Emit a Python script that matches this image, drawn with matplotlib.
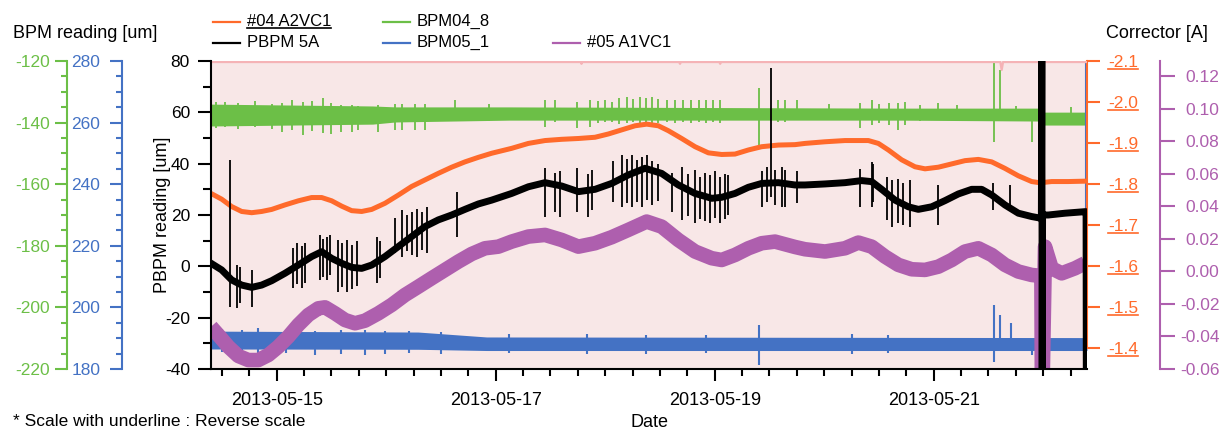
import numpy as np
import matplotlib
matplotlib.use('Agg')
import matplotlib.pyplot as plt
import matplotlib.dates as mdates
from matplotlib.ticker import MultipleLocator
from matplotlib.lines import Line2D
from matplotlib.transforms import IdentityTransform

plt.rcParams['font.family'] = ['Liberation Sans', 'DejaVu Sans']
plt.rcParams['axes.unicode_minus'] = False

# ---------------- data (time = hours since 2013-05-14 00:00) ----------------
T0 = np.datetime64('2013-05-14T00:00:00')
X_START_H, X_END_H = 9.6, 201.6

# PBPM 5A [um] (main axis): (hour, value)
pbpm_pts = [(9.6, 1.2), (11.94, -1.4), (14.13, -5.3), (16.32, -7.3), (18.51, -8.2),
            (20.70, -7.3), (22.90, -5.6), (25.82, -2.7), (28.74, 0.5), (31.66, 3.8),
            (33.86, 5.7), (36.05, 3.1), (38.24, 1.2), (40.43, -0.4), (42.62, -0.8),
            (44.82, 0.5), (47.74, 3.8), (50.66, 7.7), (53.58, 11.6), (56.50, 15.5),
            (59.43, 18.1), (62.35, 20.0), (65.27, 22.2), (68.19, 24.3), (71.12, 25.8),
            (75.50, 28.4), (79.16, 31.0), (82.81, 32.6), (86.46, 31.3), (90.12, 29.1),
            (93.77, 30.0), (97.42, 32.3), (101.07, 35.6), (104.73, 38.2), (108.38, 36.2),
            (112.03, 31.7), (115.69, 28.4), (119.34, 26.5), (121.53, 26.9), (124.45, 28.4),
            (127.38, 30.8), (130.30, 32.3), (133.95, 32.6), (137.6, 31.7), (139.79, 31.7),
            (144.18, 32.1), (148.56, 32.6), (152.21, 33.4), (154.41, 33.0), (156.60, 30.0),
            (159.52, 25.8), (162.44, 23.2), (164.63, 22.2), (167.56, 23.2), (170.48, 25.6),
            (173.40, 28.2), (176.32, 30.0), (178.52, 30.0), (180.71, 27.8), (183.63, 23.9),
            (186.55, 20.7), (189.47, 19.4), (191.60, 18.7), (191.70, 85.0), (191.78, -45.0),
            (191.86, 20.0), (193.13, 20.0), (196.78, 20.7), (201.16, 21.3), (201.4, 21.3),
            (201.45, -45.0)]
# PBPM 5A spikes: (hour, low, high)
pbpm_spikes = [(13.8, -15.7, 41.4), (15.2, -16.4, 0.5), (16.0, -14.4, -0.1), (18.5, -15.7, -1.4),
               (27.6, -8.6, 7.0), (28.4, -7.0, 9.0), (29.5, -8.6, 8.0), (30.2, -6.5, 9.0),
               (33.5, -5.3, 12.2), (34.2, -4.0, 10.5), (35.0, -5.3, 11.5), (35.7, -3.5, 12.2),
               (37.5, -9.9, 10.3), (38.4, -8.0, 9.0), (39.3, -9.9, 10.3), (40.4, -9.0, 8.5),
               (41.5, -7.5, 10.0), (45.9, -6.6, 11.5), (46.6, -4.5, 10.0), (49.9, 5.0, 19.0),
               (51.4, 3.8, 21.9), (52.5, 6.0, 20.0), (53.6, 4.5, 21.0), (54.7, 3.8, 22.5),
               (55.8, 6.5, 21.0), (56.9, 5.0, 23.0), (63.5, 11.5, 29.1), (82.8, 19.3, 38.2),
               (85.0, 21.0, 36.5), (86.1, 19.3, 37.0), (89.8, 21.0, 38.2), (92.3, 19.3, 36.0),
               (93.0, 22.0, 37.5), (97.8, 25.0, 41.0), (99.6, 23.2, 43.4), (100.7, 24.5, 42.0),
               (101.8, 23.2, 43.4), (102.9, 25.0, 41.5), (104.0, 23.2, 42.5), (105.1, 26.0, 43.4),
               (106.2, 24.0, 41.0), (107.6, 25.5, 40.0), (110.6, 21.0, 36.5), (112.8, 18.0, 38.8),
               (114.2, 19.5, 36.0), (115.7, 16.8, 37.5), (116.8, 18.5, 35.0), (117.9, 17.5, 36.5),
               (119.0, 16.8, 35.5), (120.1, 19.0, 37.0), (121.2, 17.0, 35.0), (122.3, 18.5, 36.0),
               (123.0, 20.0, 35.5), (130.3, 23.2, 37.0), (131.4, 25.0, 38.8), (132.3, 27.1, 77.2),
               (133.2, 24.0, 37.5), (134.7, 23.2, 38.8), (135.4, 23.2, 37.5), (138.0, 24.5, 37.0),
               (151.9, 23.2, 38.0), (154.4, 23.2, 40.8), (154.8, 25.0, 40.0), (157.7, 18.0, 34.9),
               (158.8, 15.4, 33.5), (160.2, 17.0, 34.0), (161.3, 16.0, 32.5), (162.8, 15.4, 33.5),
               (169.0, 16.1, 31.7), (181.1, 22.0, 32.4), (184.7, 23.0, 31.5)]

# #04 A2VC1 corrector [A] (reverse scale)
a2vc1_pts = [(9.6, -1.777), (11.94, -1.763), (14.13, -1.745), (16.32, -1.733), (18.51, -1.730),
             (20.70, -1.733), (22.90, -1.738), (25.82, -1.749), (28.74, -1.759), (31.66, -1.767),
             (33.86, -1.767), (36.05, -1.759), (38.24, -1.746), (40.43, -1.735), (42.62, -1.733),
             (44.82, -1.738), (47.74, -1.753), (50.66, -1.773), (53.58, -1.794), (56.50, -1.810),
             (59.43, -1.826), (62.35, -1.841), (65.27, -1.854), (68.19, -1.865), (71.12, -1.875),
             (75.50, -1.887), (79.16, -1.899), (82.81, -1.906), (86.46, -1.909), (90.12, -1.911),
             (93.77, -1.914), (96.69, -1.922), (99.61, -1.932), (102.54, -1.942), (105.09, -1.946),
             (107.65, -1.942), (109.84, -1.930), (112.76, -1.911), (115.69, -1.891), (118.61, -1.876),
             (121.53, -1.872), (124.45, -1.873), (127.38, -1.883), (130.30, -1.891), (133.95, -1.895),
             (137.60, -1.896), (139.79, -1.899), (144.18, -1.903), (148.56, -1.906), (153.68, -1.906),
             (155.87, -1.899), (158.06, -1.883), (160.98, -1.859), (163.90, -1.842), (166.10, -1.837),
             (169.02, -1.841), (171.94, -1.849), (174.86, -1.857), (177.78, -1.860), (180.71, -1.854),
             (183.63, -1.838), (186.55, -1.820), (189.47, -1.806), (191.30, -1.803), (193.86, -1.806),
             (197.50, -1.806), (201.60, -1.807)]

# #05 A1VC1 corrector [A]
a1vc1_pts = [(9.6, -0.0340), (11.21, -0.0391), (13.40, -0.0463), (15.59, -0.0520), (17.78, -0.0545),
             (19.97, -0.0545), (22.17, -0.0514), (24.36, -0.0463), (26.55, -0.0401), (28.74, -0.0329),
             (30.93, -0.0268), (33.13, -0.0227), (34.59, -0.0221), (36.78, -0.0258), (38.97, -0.0299),
             (41.16, -0.0319), (43.35, -0.0303), (46.28, -0.0258), (49.20, -0.0206), (52.12, -0.0145),
             (55.04, -0.0094), (57.97, -0.0042), (60.89, 0.0009), (63.81, 0.0060), (66.73, 0.0107),
             (69.65, 0.0142), (72.58, 0.0152), (75.50, 0.0183), (79.16, 0.0214), (82.81, 0.0224),
             (86.46, 0.0193), (90.12, 0.0152), (93.77, 0.0173), (97.42, 0.0210), (101.07, 0.0255),
             (105.09, 0.0306), (108.38, 0.0275), (112.03, 0.0193), (115.69, 0.0122), (119.34, 0.0081),
             (121.53, 0.0070), (124.45, 0.0101), (127.38, 0.0142), (130.30, 0.0173), (133.22, 0.0183),
             (137.60, 0.0150), (139.79, 0.0136), (144.18, 0.0122), (148.56, 0.0142), (151.48, 0.0177),
             (154.41, 0.0152), (157.33, 0.0091), (160.25, 0.0040), (163.17, 0.0013), (166.10, 0.0009),
             (169.02, 0.0029), (171.94, 0.0070), (174.86, 0.0122), (177.78, 0.0142), (180.71, 0.0101),
             (183.63, 0.0040), (186.55, -0.0001), (189.47, -0.0022), (191.60, -0.0028), (191.72, -0.075),
             (191.84, -0.075), (192.4, 0.0152), (193.86, 0.0019), (196.05, -0.0012), (198.97, 0.0019),
             (201.16, 0.0050)]

# BPM04_8 [um]: band (hour, low, high) and spikes (hour, low, high)
bpm04_band = [(9.6, -141.1, -134.0), (45, -140.5, -134.6), (50, -139.8, -134.9), (75, -139.2, -134.9),
              (160, -139.2, -135.3), (191.5, -139.5, -135.3), (191.9, -140.8, -136.6),
              (201.6, -140.8, -136.6)]
bpm04_spikes = [(10.8, -141.8, -133.2), (12.7, -141.5, -133.2), (15.6, -142.0, -133.5),
                (19.2, -141.5, -133.0), (22.9, -142.0, -134.0), (25.1, -143.2, -133.5),
                (27.3, -142.4, -132.7), (29.8, -144.0, -133.2), (31.7, -142.8, -133.0),
                (34.2, -143.5, -132.1), (36.0, -143.8, -133.5), (38.2, -143.0, -134.3),
                (40.4, -143.0, -134.3), (41.9, -142.4, -134.6), (46.3, -143.0, -134.3),
                (49.9, -142.4, -133.9), (51.4, -142.4, -133.9), (54.3, -142.4, -133.9),
                (56.5, -142.4, -133.9), (63.1, -138.6, -132.7), (70.5, -139.5, -134.0),
                (82.8, -141.3, -132.7), (85.0, -139.8, -132.5), (89.8, -141.7, -133.2),
                (92.7, -141.3, -132.7), (94.5, -140.0, -133.0), (96.0, -139.8, -132.8),
                (97.4, -139.8, -133.2), (99.0, -140.5, -132.0), (100.7, -140.2, -131.8),
                (102.0, -139.8, -132.2), (103.6, -140.2, -131.8), (104.9, -139.9, -132.0),
                (106.2, -140.2, -131.8), (107.6, -140.2, -132.2), (109.5, -139.8, -132.5),
                (111.3, -140.2, -132.5), (113.0, -139.8, -132.8), (114.7, -140.2, -132.5),
                (116.5, -139.9, -132.8), (118.0, -140.2, -132.5), (119.6, -139.8, -132.8),
                (121.2, -140.2, -132.5), (129.6, -147.3, -128.9), (133.9, -139.8, -132.7),
                (135.4, -139.7, -132.7), (138.0, -138.1, -132.7), (145.0, -139.2, -134.0),
                (151.9, -141.8, -133.6), (154.4, -140.8, -132.5), (156.0, -140.0, -134.0),
                (158.1, -140.8, -133.6), (160.2, -142.4, -133.6), (161.7, -140.8, -133.2),
                (165.0, -139.5, -134.2), (169.0, -138.1, -133.6), (173.0, -139.5, -134.3),
                (181.3, -146.2, -119.7), (182.5, -137.0, -122.9), (186.0, -139.5, -134.5),
                (189.6, -146.2, -138.1), (198.2, -138.6, -135.0)]

# BPM05_1 [um]: band and spikes
bpm05_band = [(9.6, 186.5, 192.3), (55, 186.4, 192.0), (70, 186.0, 190.4), (201.6, 186.0, 190.2)]
bpm05_spikes = [(12.0, 185.5, 193.0), (16.5, 185.2, 192.8), (20.0, 185.0, 193.2), (26.0, 185.3, 192.6),
                (32.4, 184.5, 192.5), (38.0, 184.8, 192.7), (43.4, 184.5, 192.8), (47.7, 184.8, 192.5),
                (53.0, 185.2, 192.4), (60.0, 185.0, 192.0), (75.0, 185.2, 191.5), (92.0, 185.0, 191.3),
                (105.0, 185.0, 191.2), (118.0, 185.2, 191.0), (129.6, 181.3, 194.3), (150.0, 185.0, 191.4),
                (158.0, 185.2, 191.2), (181.3, 182.3, 200.8), (182.5, 187.1, 197.5), (184.9, 188.4, 194.9),
                (189.5, 184.5, 188.0), (191.55, 150.0, 310.0), (201.45, 150.0, 310.0)]

# top reference trace (pink), main-axis units
ref_pts = [(9.6, 79.6), (90.6, 79.6), (90.8, 78.9), (91.0, 79.6), (112.2, 79.6), (112.4, 78.9),
           (112.6, 79.6), (121.0, 79.6), (121.2, 78.9), (121.4, 79.6), (182.6, 79.6), (182.9, 76.5),
           (183.2, 79.6), (201.6, 79.6)]


def to_dt(hours):
    return T0 + (np.asarray(hours, float) * 3600).astype('timedelta64[s]')


def cols(pts):
    return [np.array(c) for c in zip(*pts)]


# ---------------- style ----------------
C_OR = '#FF6A2B'
C_GR = '#6CBF47'
C_BL = '#4472C4'
C_PU = '#AE5FAE'
C_BG = '#F8E7E7'
C_PK = '#F5B3B6'
W, H = 1223, 433
FS = 12.5

fig = plt.figure(figsize=(W / 100, H / 100), dpi=100)
ax = fig.add_axes([211 / W, 1 - 369 / H, 876 / W, 308 / H])
ax_g = ax.twinx()
ax_b = ax.twinx()
ax_p = ax.twinx()
ax_o = ax.twinx()
for z, a in enumerate([ax_g, ax_b, ax_p, ax_o, ax], start=1):
    a.set_zorder(z)
ax.patch.set_visible(False)
ax_g.patch.set_visible(True)
ax_g.patch.set_facecolor(C_BG)

for a in [ax_g, ax_b, ax_p, ax_o]:
    for s in a.spines.values():
        s.set_visible(False)
ax.spines['top'].set_visible(False)
ax.spines['right'].set_visible(False)
for s in ['left', 'bottom']:
    ax.spines[s].set_linewidth(1.5)

# ---- series ----
h, v = cols(ref_pts)
ax.plot(to_dt(h), v, color=C_PK, lw=1.6, zorder=1)
h, lo, hi = cols(pbpm_spikes)
ax.vlines(to_dt(h), lo, hi, color='black', lw=1.3, zorder=3)
h, v = cols(pbpm_pts)
ax.plot(to_dt(h), v, color='black', lw=5.0, zorder=4, solid_joinstyle='round')

h, lo, hi = cols(bpm04_band)
ax_g.fill_between(to_dt(h), lo, hi, color=C_GR, lw=0)
h, lo, hi = cols(bpm04_spikes)
ax_g.vlines(to_dt(h), lo, hi, color=C_GR, lw=1.3)

h, lo, hi = cols(bpm05_band)
ax_b.fill_between(to_dt(h), lo, hi, color=C_BL, lw=0)
h, lo, hi = cols(bpm05_spikes)
ax_b.vlines(to_dt(h), lo, hi, color=C_BL, lw=1.5)

h, v = cols(a1vc1_pts)
ax_p.plot(to_dt(h), v, color=C_PU, lw=10.5, solid_capstyle='butt', solid_joinstyle='round')
h, v = cols(a2vc1_pts)
ax_o.plot(to_dt(h), v, color=C_OR, lw=3.6, solid_capstyle='butt', solid_joinstyle='round')

# ---- x axis ----
ax.set_xlim(to_dt([X_START_H])[0], to_dt([X_END_H])[0])
ax.xaxis.set_major_locator(mdates.DayLocator(bymonthday=[15, 17, 19, 21]))
ax.xaxis.set_minor_locator(mdates.HourLocator(byhour=[0, 6, 12, 18]))
ax.xaxis.set_major_formatter(mdates.DateFormatter('%Y-%m-%d'))
ax.tick_params(axis='x', which='major', length=8.6, width=1.5, pad=8, labelsize=13)
ax.tick_params(axis='x', which='minor', length=5.0, width=1.5)
ax.set_xlabel('Date', fontsize=13)
ax.xaxis.set_label_coords(0.5, -0.145)

# ---- main y axis ----
ax.set_ylim(-40, 80)
ax.yaxis.set_major_locator(MultipleLocator(20))
ax.yaxis.set_minor_locator(MultipleLocator(10))
ax.tick_params(axis='y', which='major', length=9.4, width=1.5, pad=5.8, labelsize=FS)
ax.tick_params(axis='y', which='minor', length=5.8, width=1.5)
ax.set_ylabel('PBPM reading [um]', fontsize=13)
ax.yaxis.set_label_coords(-0.046, 0.5)


# ---- BPM axes on the left ----
def left_axis(a, pos, color, lim, pad):
    a.set_ylim(*lim)
    a.yaxis.set_ticks_position('left')
    a.yaxis.set_label_position('left')
    sp = a.spines['left']
    sp.set_visible(True)
    sp.set_position(('axes', pos))
    sp.set_color(color)
    sp.set_linewidth(1.5)
    a.yaxis.set_major_locator(MultipleLocator(20))
    a.yaxis.set_minor_locator(MultipleLocator(5))
    a.tick_params(axis='y', which='both', left=True, right=False, labelleft=True,
                  labelright=False, color=color, labelcolor=color, width=1.5)
    a.tick_params(axis='y', which='major', length=8.6, pad=pad, labelsize=FS)
    a.tick_params(axis='y', which='minor', length=4.2)


left_axis(ax_g, (67 - 211) / 876, C_GR, (-220, -120), 3.6)
left_axis(ax_b, (122 - 211) / 876, C_BL, (180, 280), 7.0)

# ---- orange corrector axis (reverse) ----
ax_o.set_ylim(-1.3488, -2.1)
sp = ax_o.spines['right']
sp.set_visible(True)
sp.set_color(C_OR)
sp.set_linewidth(1.5)
sp.set_bounds(-2.1, -1.4)
o_ticks = [-2.1, -2.0, -1.9, -1.8, -1.7, -1.6, -1.5, -1.4]
ax_o.set_yticks(o_ticks, labels=['%.1f' % t for t in o_ticks])
ax_o.tick_params(axis='y', which='major', length=9.4, width=1.5, pad=5.8, labelsize=FS,
                 color=C_OR, labelcolor=C_OR)

# ---- purple corrector axis ----
ax_p.set_ylim(-0.06, 0.1293)
sp = ax_p.spines['right']
sp.set_visible(True)
sp.set_position(('axes', (1160 - 211) / 876))
sp.set_color(C_PU)
sp.set_linewidth(1.5)
p_ticks = [0.12, 0.10, 0.08, 0.06, 0.04, 0.02, 0.00, -0.02, -0.04, -0.06]
ax_p.set_yticks(p_ticks, labels=['%.2f' % t for t in p_ticks], ha='right')
ax_p.tick_params(axis='y', which='major', length=10.8, width=1.5, pad=32, labelsize=FS,
                 color=C_PU, labelcolor=C_PU)


# ---- texts ----
def fx(px):
    return px / W


def fy(py):
    return 1 - py / H


fig.text(fx(13), fy(33), 'BPM reading [um]', fontsize=13, va='center', ha='left')
fig.text(fx(1157), fy(33), 'Corrector [A]', fontsize=13, va='center', ha='center')
fig.text(fx(13), fy(421), '* Scale with underline : Reverse scale', fontsize=12.5,
         va='center', ha='left')

# ---- legend (manual, two rows) ----
legend_items = [('#04 A2VC1', C_OR, 213, 21.5, True),
                ('PBPM 5A', 'black', 213, 42.5, False),
                ('BPM04_8', C_GR, 383, 21.5, False),
                ('BPM05_1', C_BL, 383, 42.5, False),
                ('#05 A1VC1', C_PU, 553, 42.5, False)]
leg_texts = []
for lab, col, xp, yp, ul in legend_items:
    fig.add_artist(Line2D([fx(xp), fx(xp + 27)], [fy(yp), fy(yp)], color=col, lw=1.6,
                          transform=fig.transFigure))
    t = fig.text(fx(xp + 34), fy(yp), lab, fontsize=12, va='center', ha='left')
    if ul:
        leg_texts.append(t)

# ---- underlines for reverse-scale items ----
fig.canvas.draw()
renderer = fig.canvas.get_renderer()
for lab in ax_o.get_yticklabels():
    bb = lab.get_window_extent(renderer)
    fig.add_artist(Line2D([bb.x0, bb.x1], [bb.y0 + 1, bb.y0 + 1], color=C_OR, lw=1.2,
                          transform=IdentityTransform()))
for t in leg_texts:
    bb = t.get_window_extent(renderer)
    fig.add_artist(Line2D([bb.x0, bb.x1], [bb.y0 + 1, bb.y0 + 1], color='black', lw=1.2,
                          transform=IdentityTransform()))

fig.savefig('out.png', dpi=100)
